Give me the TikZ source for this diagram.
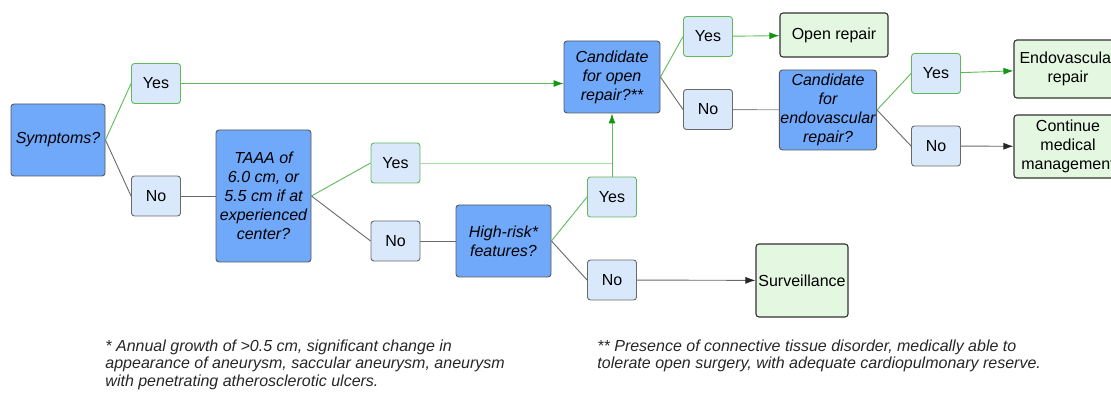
\documentclass[tikz,border=0pt]{standalone}
\usepackage{fontspec}
\setmainfont{Liberation Sans}
\usepackage{tikz}
\usetikzlibrary{arrows.meta,shapes}
\definecolor{qblue}{RGB}{112,168,250}
\definecolor{ablue}{RGB}{218,232,252}
\definecolor{rgreen}{RGB}{228,248,225}
\definecolor{lgreen}{RGB}{96,186,92}
\definecolor{pgreen}{RGB}{172,222,170}
\definecolor{tgreen}{RGB}{20,150,20}
\definecolor{egray}{RGB}{105,105,105}
\newcommand{\nfont}{\fontsize{16bp}{19bp}\selectfont}

\begin{document}
\begin{tikzpicture}[>={Latex[length=10bp,width=7bp]}, line width=0.9bp]
      \tikzstyle{every node}=[font=\nfont, align=center, inner sep=1bp]
      \tikzstyle{quest}=[rectangle, rounded corners=3bp, fill=qblue, draw=black!65, font=\nfont\itshape]
      \tikzstyle{ans}=[rectangle, rounded corners=3bp, fill=ablue, minimum width=49bp, minimum height=40bp]
      \tikzstyle{res}=[rectangle, rounded corners=3bp, fill=rgreen, draw=black!80, line width=1.1bp]
      \tikzstyle{ygo}=[draw=lgreen, -{Latex[length=10bp,width=7bp,color=tgreen]}]
      \tikzstyle{ngo}=[draw=egray, -{Latex[length=10bp,width=7bp,color=black!85]}]
      \tikzstyle{note}=[font=\fontsize{16bp}{17.5bp}\selectfont\itshape, align=left, anchor=base west, inner sep=0pt, text=black!85]
      %%
      \useasboundingbox (0bp,0bp) rectangle (1111bp,393bp);
      \clip (0bp,0bp) rectangle (1111bp,393bp);
%
  \node (q_1) at (58bp,253bp) [quest, minimum width=94bp, minimum height=72bp] {Symptoms?};
  \node (q_2) at (263.5bp,197bp) [quest, minimum width=95bp, minimum height=132bp] {TAAA of\\6.0 cm, or\\5.5 cm if at\\experienced\\center?};
  \node (q_3) at (503.5bp,152bp) [quest, minimum width=95bp, minimum height=72bp] {High-risk*\\features?};
  \node (q_4) at (612bp,316bp) [quest, minimum width=96bp, minimum height=72bp] {Candidate\\for open\\repair?**};
  \node (q_5) at (828bp,283bp) [quest, minimum width=96bp, minimum height=80bp] {Candidate\\for\\endovascular\\repair?};
  \node (y_1) at (156bp,309.5bp) [ans, draw=lgreen] {Yes};
  \node (n_1) at (156bp,197bp) [ans, draw=egray] {No};
  \node (y_2) at (395.5bp,230bp) [ans, draw=lgreen] {Yes};
  \node (n_2) at (395.5bp,152bp) [ans, draw=egray] {No};
  \node (y_3) at (612bp,196bp) [ans, draw=lgreen] {Yes};
  \node (n_3) at (612bp,113bp) [ans, draw=egray] {No};
  \node (y_4) at (708bp,356.5bp) [ans, draw=lgreen] {Yes};
  \node (n_4) at (708bp,283.5bp) [ans, draw=egray] {No};
  \node (y_5) at (936bp,319.5bp) [ans, draw=lgreen] {Yes};
  \node (n_5) at (936bp,247bp) [ans, draw=egray] {No};
  \node (r_surv) at (802bp,112.5bp) [res, minimum width=92bp, minimum height=73bp] {Surveillance};
  \node (r_open) at (834bp,358bp) [res, minimum width=108bp, minimum height=44bp] {Open repair};
  \node (r_endo) at (1068bp,324bp) [res, minimum width=108bp, minimum height=58bp] {Endovascular\\repair};
  \node (r_med) at (1068bp,246.5bp) [res, minimum width=108bp, minimum height=63bp] {Continue\\medical\\management};
  \node (f_1) at (105bp,7bp) [note] {* Annual growth of >0.5 cm, significant change in\\appearance of aneurysm, saccular aneurysm, aneurysm\\with penetrating atherosclerotic ulcers.};
  \node (f_2) at (597bp,24.5bp) [note] {** Presence of connective tissue disorder, medically able to\\tolerate open surgery, with adequate cardiopulmonary reserve.};
  \draw [draw=lgreen] (q_1.east) -- (y_1.west);
  \draw [draw=egray] (q_1.east) -- (n_1.west);
  \draw [draw=egray] (n_1) -- (q_2);
  \draw [draw=lgreen] (q_2.east) -- (y_2.west);
  \draw [draw=egray] (q_2.east) -- (n_2.west);
  \draw [draw=egray] (n_2) -- (q_3);
  \draw [draw=lgreen] (q_3.east) -- (y_3.west);
  \draw [draw=egray] (q_3.east) -- (n_3.west);
  \draw [ngo] (n_3) -- (r_surv);
  \draw [ygo] (y_1.east) -- (y_1.east -| q_4.west);
  \draw [draw=pgreen] (y_2.east) -- (y_2.east -| y_3.north);
  \draw [ygo] (y_3.north) -- (q_4.south);
  \draw [draw=lgreen] (q_4.east) -- (y_4.west);
  \draw [draw=egray] (q_4.east) -- (n_4.west);
  \draw [ygo] (y_4) -- (r_open);
  \draw [draw=black!45] (n_4) -- (q_5);
  \draw [draw=lgreen] (q_5.east) -- (y_5.west);
  \draw [draw=egray] (q_5.east) -- (n_5.west);
  \draw [ygo] (y_5) -- (r_endo);
  \draw [ngo] (n_5) -- (r_med);
%
\end{tikzpicture}
\end{document}
